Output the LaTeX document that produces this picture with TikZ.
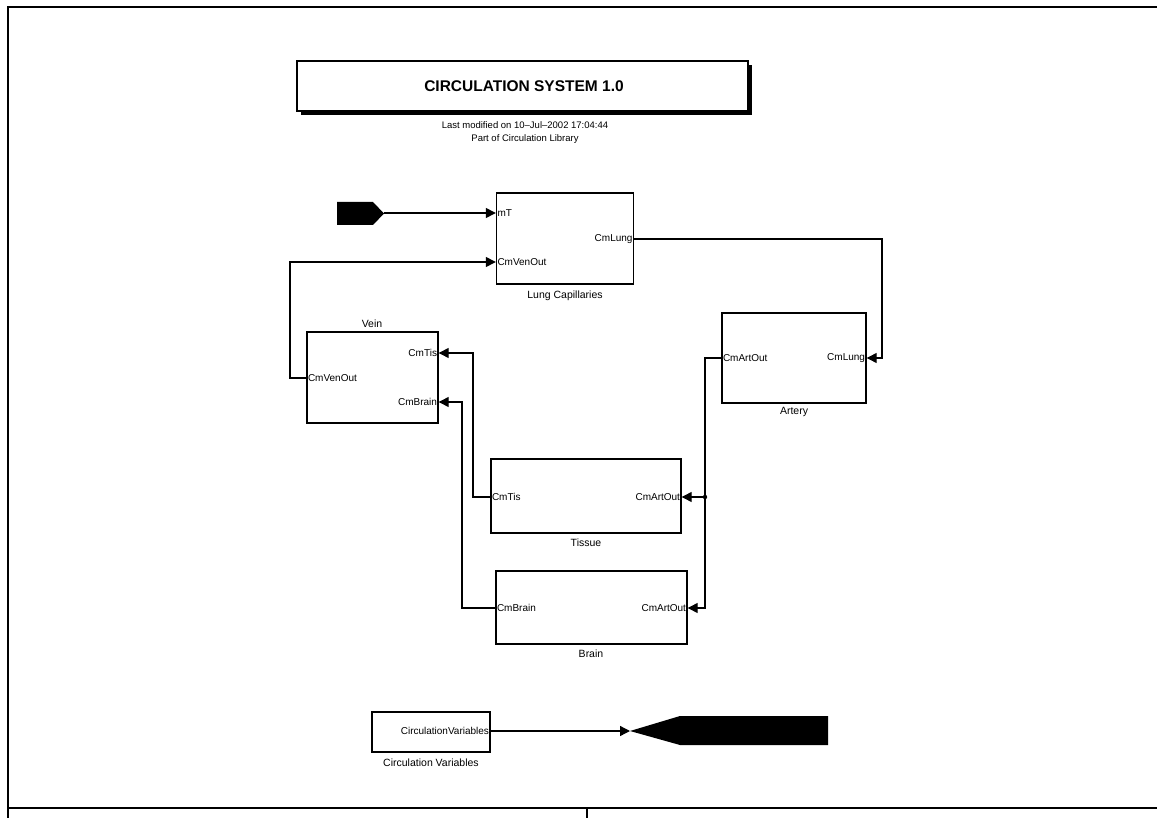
\documentclass[tikz,border=0pt]{standalone}
\usepackage{fontspec}
\setmainfont{Liberation Sans}
\usetikzlibrary{arrows.meta}
\tikzset{
  blk/.style={draw, line width=1.4pt, rectangle, inner sep=0pt},
  portL/.style={anchor=west, inner sep=1.5pt, font=\fontsize{10}{11}\selectfont},
  portR/.style={anchor=east, inner sep=1.5pt, font=\fontsize{10}{11}\selectfont},
  lbl/.style={font=\fontsize{10.5}{11}\selectfont, inner sep=0pt},
  wire/.style={line width=1.3pt, -{Triangle[length=10pt,width=10pt]}},
  frame/.style={line width=1.4pt},
}
\begin{document}
\begin{tikzpicture}[x=1pt,y=-1pt]
\useasboundingbox (0,0) rectangle (1157,818);
% frame
\draw[frame] (1157,7) -- (8,7) -- (8,818);
\draw[frame] (8,808) -- (1157,808);
\draw[frame] (587,808) -- (587,818);
% title
\fill (301,65) rectangle (752,115);
\node[draw, line width=1.4pt, fill=white, minimum width=451pt, minimum height=50pt, inner sep=0pt] (title) at (522.5,86) {};
\node[font=\fontsize{15.5}{16}\bfseries\selectfont] (titletext) at (524,86) {CIRCULATION SYSTEM 1.0};
\node[font=\fontsize{9.5}{13}\selectfont, align=center] (sub) at (525,133) {Last modified on 10--Jul--2002 17:04:44\\Part of Circulation Library};
% lung capillaries
\node[blk, minimum width=137pt, minimum height=91pt] (lung) at (565,238.5) {};
\node[lbl] (lunglbl) at (565,296) {Lung Capillaries};
\node[portL] (lung-mT) at (lung.west |- 0,213) {mT};
\node[portL] (lung-ven) at (lung.west |- 0,262) {CmVenOut};
\node[portR] (lung-out) at (lung.east |- 0,239) {CmLung};
% vein
\node[blk, minimum width=131pt, minimum height=91pt] (vein) at (372.5,377.5) {};
\node[lbl] (veinlbl) at (372,324) {Vein};
\node[portR] (vein-tis) at (vein.east |- 0,353) {CmTis};
\node[portR] (vein-brain) at (vein.east |- 0,402) {CmBrain};
\node[portL] (vein-out) at (vein.west |- 0,378) {CmVenOut};
% artery
\node[blk, minimum width=144pt, minimum height=90pt] (artery) at (794,358) {};
\node[lbl] (arterylbl) at (794,412) {Artery};
\node[portL] (art-out) at (artery.west |- 0,358) {CmArtOut};
\node[portR] (art-lung) at (artery.east |- 0,358) {CmLung};
% tissue
\node[blk, minimum width=190pt, minimum height=74pt] (tissue) at (586,496) {};
\node[lbl] (tissuelbl) at (586,543) {Tissue};
\node[portL] (tis-tis) at (tissue.west |- 0,497) {CmTis};
\node[portR] (tis-art) at (tissue.east |- 0,497) {CmArtOut};
% brain
\node[blk, minimum width=191pt, minimum height=73pt] (brain) at (591.5,607.5) {};
\node[lbl] (brainlbl) at (591,654) {Brain};
\node[portL] (br-br) at (brain.west |- 0,608) {CmBrain};
\node[portR] (br-art) at (brain.east |- 0,608) {CmArtOut};
% circulation variables
\node[blk, minimum width=118pt, minimum height=40pt] (cv) at (431,732) {};
\node[lbl] (cvlbl) at (431,763) {Circulation Variables};
\node[portR] (cv-out) at (cv.east |- 0,731) {CirculationVariables};
% from tag
\fill (337,202) -- (373,202) -- (384,213.5) -- (373,225) -- (337,225) -- cycle;
\coordinate (fromtip) at (384,213);
% goto tag
\fill (630,731) -- (680,716) -- (828,716) -- (828,745) -- (680,745) -- cycle;
\coordinate (gototip) at (630,731);
% wires
\draw[wire] (fromtip) -- (lung-mT.west);
\draw[wire] (vein-out.west) -- (290,378) |- (lung-ven.west);
\draw[wire] (lung-out.east) -- (882,239) |- (art-lung.east);
\draw[wire] (art-out.west) -- (705,358) |- (br-art.east);
\draw[wire] (705,497) -- (tis-art.east);
\fill (705,497) circle (2.2pt);
\draw[wire] (tis-tis.west) -- (473,497) |- (vein-tis.east);
\draw[wire] (br-br.west) -- (462,608) |- (vein-brain.east);
\draw[wire] (cv-out.east) -- (gototip);
\end{tikzpicture}
\end{document}
